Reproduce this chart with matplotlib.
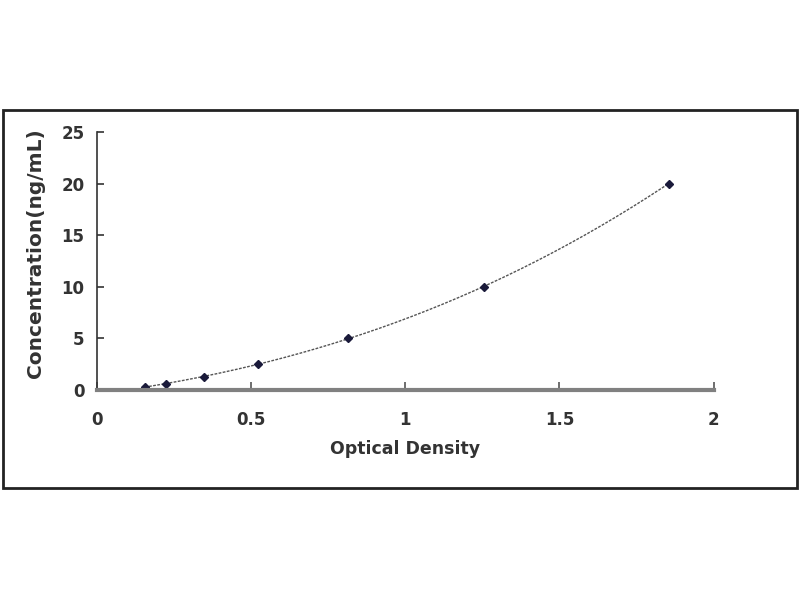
import numpy as np
import matplotlib
matplotlib.use("Agg")
import matplotlib.pyplot as plt
from matplotlib.patches import Rectangle

# standard curve points
od = [0.156, 0.224, 0.347, 0.522, 0.814, 1.254, 1.854]
conc = [0.312, 0.625, 1.25, 2.5, 5, 10, 20]

xticks = [0, 0.5, 1, 1.5, 2]
xticklabels = ['0', '0.5', '1', '1.5', '2']
yticks = [0, 5, 10, 15, 20, 25]

plt.rcParams['font.family'] = ['DejaVu Sans']
plt.rcParams['font.weight'] = 'bold'

fig = plt.figure(figsize=(8, 6), dpi=100)
fig.patches.append(Rectangle((0.004, 0.187), 0.992, 0.630, transform=fig.transFigure,
                             fill=False, edgecolor='#222222', linewidth=2))

ax = fig.add_axes([0.121, 0.35, 0.771, 0.43])

# fitted curve (polynomial through the standards)
coef = np.polyfit(od, conc, 3)
xs = np.linspace(min(od), max(od), 200)
ax.plot(xs, np.polyval(coef, xs), color='#555555', lw=1.0, ls=(0, (2, 1)))
ax.plot(od, conc, 'D', color='#1a1a3a', markersize=4, ls='none')

ax.set_xlim(0, 2)
ax.set_ylim(0, 25)
ax.set_xticks(xticks)
ax.set_xticklabels(xticklabels)
ax.set_yticks(yticks)

for s in ['top', 'right']:
    ax.spines[s].set_visible(False)
ax.spines['left'].set_color('#333333')
ax.spines['left'].set_linewidth(1.2)
ax.spines['bottom'].set_color('#808080')
ax.spines['bottom'].set_linewidth(3)

ax.tick_params(axis='x', direction='in', length=6, width=1.2, color='#555555',
               pad=15, labelsize=12, labelcolor='#333333')
ax.tick_params(axis='y', direction='in', length=5, width=1.2, color='#333333',
               pad=9, labelsize=12, labelcolor='#333333')

ax.set_xlabel('Optical Density', fontsize=12.5, fontweight='bold', color='#333333', labelpad=8)
ax.set_ylabel('Concentration(ng/mL)', fontsize=14.5, fontweight='bold', color='#333333', labelpad=11)
ax.yaxis.set_label_coords(-0.084, 0.53)

fig.savefig('out.png', dpi=100)
